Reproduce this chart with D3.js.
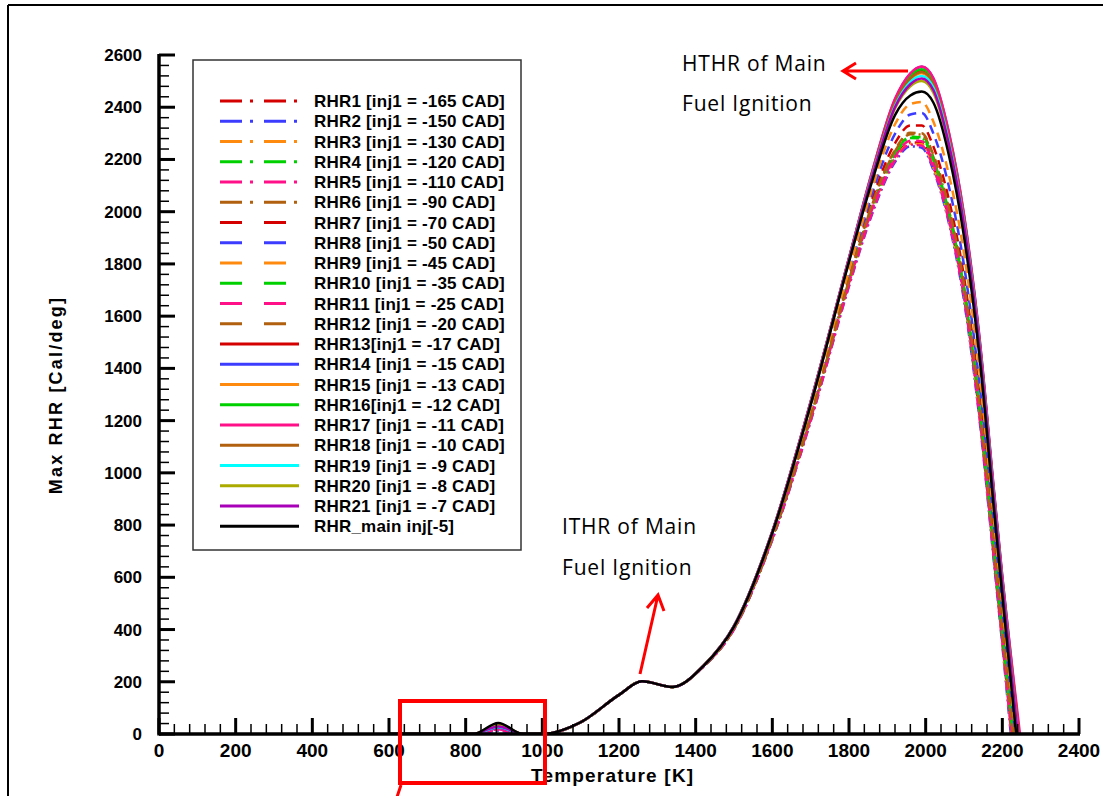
<!DOCTYPE html>
<html>
<head>
<meta charset="utf-8">
<script src="https://cdn.jsdelivr.net/npm/d3@7"></script>
<style>
  body { margin: 0; background: #fff; }
  svg { display: block; }
  .tick-y { font: bold 17px "Liberation Sans", Arial, sans-serif; }
  .tick-x { font: bold 19px "Liberation Sans", Arial, sans-serif; }
  .leg { font: bold 17px "Liberation Sans", Arial, sans-serif; letter-spacing: 0.2px; }
  .note { font: 21px "Open Sans", "Noto Sans", sans-serif; letter-spacing: 0.8px; }
</style>
</head>
<body>
<svg id="chart" width="1103" height="796"></svg>
<script>
// temperature grid [K] shared by all curves
var temps = [600, 820, 885, 950, 1000, 1100, 1200, 1260, 1340, 1420, 1500, 1600, 1700, 1800, 1860, 1920, 1960, 1990, 2020, 2060, 2100, 2140, 2180, 2200];

var seriesNames = [
  "RHR1 [inj1 = -165 CAD]", "RHR2 [inj1 = -150 CAD]", "RHR3 [inj1 = -130 CAD]",
  "RHR4 [inj1 = -120 CAD]", "RHR5 [inj1 = -110 CAD]", "RHR6 [inj1 = -90 CAD]",
  "RHR7 [inj1 = -70 CAD]", "RHR8 [inj1 = -50 CAD]", "RHR9 [inj1 = -45 CAD]",
  "RHR10 [inj1 = -35 CAD]", "RHR11 [inj1 = -25 CAD]", "RHR12 [inj1 = -20 CAD]",
  "RHR13[inj1 = -17 CAD]", "RHR14 [inj1 = -15 CAD]", "RHR15 [inj1 = -13 CAD]",
  "RHR16[inj1 = -12 CAD]", "RHR17 [inj1 = -11 CAD]", "RHR18 [inj1 = -10 CAD]",
  "RHR19 [inj1 = -9 CAD]", "RHR20 [inj1 = -8 CAD]", "RHR21 [inj1 = -7 CAD]",
  "RHR_main inj[-5]"
];

var seriesColors = [
  "#d40000", "#3c3cff", "#ff8a10", "#00d000", "#ff1088", "#b0600f",
  "#d40000", "#3c3cff", "#ff8a10", "#00d000", "#ff1088", "#b0600f",
  "#d40000", "#3c3cff", "#ff8a10", "#00d000", "#ff1088", "#b0600f",
  "#00ffff", "#aaaa00", "#a800b8", "#000000"
];

var seriesStyle = [
  "dashdot", "dashdot", "dashdot", "dashdot", "dashdot", "dashdot",
  "dash", "dash", "dash", "dash", "dash", "dash",
  "solid", "solid", "solid", "solid", "solid", "solid",
  "solid", "solid", "solid", "solid"
];

// max RHR [Cal/deg] on the temps grid, one row per series
var rhrValues = [
  [0, 0, 18, 0, 0, 45, 150, 202, 180, 258, 403, 748, 1205, 1725, 2005, 2205, 2265, 2262, 2175, 1975, 1680, 1230, 650, 360],
  [0, 0, 12, 0, 0, 45, 150, 202, 180, 258, 401, 744, 1198, 1715, 1990, 2190, 2250, 2245, 2160, 1960, 1660, 1210, 630, 340],
  [0, 0, 22, 0, 0, 45, 150, 202, 180, 258, 403, 748, 1204, 1722, 2000, 2200, 2260, 2258, 2170, 1970, 1675, 1225, 645, 355],
  [0, 0, 25, 0, 0, 45, 150, 202, 180, 259, 404, 750, 1210, 1732, 2015, 2218, 2282, 2280, 2195, 1995, 1700, 1250, 665, 375],
  [0, 0, 15, 0, 0, 45, 150, 202, 180, 258, 402, 746, 1200, 1718, 1995, 2197, 2257, 2253, 2168, 1968, 1672, 1220, 640, 350],
  [0, 0, 30, 0, 0, 45, 150, 202, 180, 259, 405, 752, 1215, 1738, 2025, 2232, 2297, 2295, 2210, 2010, 1715, 1265, 680, 390],
  [0, 0, 28, 0, 0, 45, 150, 202, 180, 259, 406, 755, 1222, 1748, 2045, 2262, 2330, 2330, 2250, 2050, 1750, 1300, 710, 420],
  [0, 0, 20, 0, 0, 45, 150, 202, 180, 260, 407, 758, 1230, 1760, 2068, 2298, 2372, 2378, 2300, 2100, 1795, 1345, 750, 455],
  [0, 0, 24, 0, 0, 45, 150, 202, 180, 260, 408, 762, 1238, 1772, 2088, 2335, 2412, 2420, 2345, 2145, 1840, 1390, 790, 490],
  [0, 0, 26, 0, 0, 45, 150, 202, 180, 259, 404, 750, 1212, 1735, 2018, 2222, 2287, 2285, 2200, 2000, 1705, 1255, 670, 380],
  [0, 0, 18, 0, 0, 45, 150, 202, 180, 258, 403, 748, 1206, 1727, 2008, 2210, 2272, 2270, 2185, 1985, 1690, 1240, 655, 365],
  [0, 0, 34, 0, 0, 45, 150, 202, 180, 259, 405, 752, 1216, 1740, 2028, 2237, 2302, 2300, 2218, 2018, 1722, 1272, 688, 395],
  [0, 0, 30, 0, 0, 45, 150, 202, 180, 261, 413, 775, 1270, 1820, 2145, 2420, 2515, 2540, 2495, 2290, 1975, 1510, 890, 590],
  [0, 0, 25, 0, 0, 45, 150, 202, 180, 261, 414, 776, 1272, 1822, 2150, 2430, 2528, 2555, 2510, 2305, 1985, 1520, 900, 600],
  [0, 0, 32, 0, 0, 45, 150, 202, 180, 261, 413, 774, 1268, 1818, 2140, 2412, 2507, 2530, 2485, 2280, 1965, 1500, 880, 580],
  [0, 0, 28, 0, 0, 45, 150, 202, 180, 261, 413, 775, 1270, 1820, 2146, 2424, 2520, 2545, 2500, 2295, 1978, 1512, 892, 592],
  [0, 0, 36, 0, 0, 45, 150, 202, 180, 261, 414, 777, 1274, 1824, 2152, 2432, 2530, 2556, 2512, 2308, 1990, 1525, 905, 605],
  [0, 0, 38, 0, 0, 45, 150, 202, 180, 261, 413, 774, 1268, 1818, 2142, 2416, 2510, 2535, 2490, 2285, 1970, 1505, 885, 585],
  [0, 0, 27, 0, 0, 45, 150, 202, 180, 260, 412, 772, 1265, 1815, 2135, 2405, 2497, 2520, 2476, 2272, 1958, 1495, 875, 575],
  [0, 0, 33, 0, 0, 45, 150, 202, 180, 260, 412, 771, 1262, 1812, 2128, 2395, 2480, 2500, 2456, 2255, 1942, 1480, 862, 565],
  [0, 0, 29, 0, 0, 45, 150, 202, 180, 260, 412, 772, 1264, 1814, 2132, 2400, 2488, 2510, 2466, 2262, 1950, 1488, 868, 570],
  [0, 0, 42, 0, 0, 45, 150, 202, 180, 260, 411, 770, 1260, 1808, 2115, 2370, 2445, 2460, 2418, 2220, 1905, 1450, 830, 530]
];

// temperature where each curve drops back to zero
var zeroAt = [2224, 2222, 2223, 2226, 2224, 2228, 2230, 2232, 2234, 2227, 2225, 2228,
              2242, 2244, 2241, 2243, 2246, 2242, 2240, 2239, 2240, 2236];

var xTicks = [0, 200, 400, 600, 800, 1000, 1200, 1400, 1600, 1800, 2000, 2200, 2400];
var yTicks = [0, 200, 400, 600, 800, 1000, 1200, 1400, 1600, 1800, 2000, 2200, 2400, 2600];

var svg = d3.select("#chart");

var x = d3.scaleLinear().domain([0, 2400]).range([159, 1079]);
var y = d3.scaleLinear().domain([0, 2600]).range([734, 55]);

// outer frame (top + left only)
svg.append("line").attr("x1", 8).attr("x2", 1103).attr("y1", 5).attr("y2", 5)
  .attr("stroke", "#000").attr("stroke-width", 2);
svg.append("line").attr("x1", 8).attr("x2", 8).attr("y1", 5).attr("y2", 796)
  .attr("stroke", "#000").attr("stroke-width", 2);

svg.append("clipPath").attr("id", "plotclip")
  .append("rect").attr("x", 159).attr("y", 40).attr("width", 940).attr("height", 694);

var dashPlot = { dashdot: "9,4,2,4", dash: "9,6", solid: null };
var dashLegend = { dashdot: "22,8,3,11", dash: "22,22", solid: null };

var line = d3.line()
  .x(function(d) { return x(d[0]); })
  .y(function(d) { return y(d[1]); })
  .curve(d3.curveMonotoneX);

var curves = svg.append("g").attr("clip-path", "url(#plotclip)");
rhrValues.forEach(function(vals, i) {
  var pts = temps.map(function(t, j) { return [t, vals[j]]; });
  pts.push([zeroAt[i], 0]);
  curves.append("path")
    .attr("d", line(pts))
    .attr("fill", "none")
    .attr("stroke", seriesColors[i])
    .attr("stroke-width", 2.5)
    .attr("stroke-dasharray", dashPlot[seriesStyle[i]]);
});

// axes: inward ticks, 4 minor between majors
var axes = svg.append("g");
var minorX = d3.range(0, 2401, 40).filter(function(v) { return v % 200 != 0; });
var minorY = d3.range(0, 2601, 40).filter(function(v) { return v % 200 != 0; });

axes.selectAll(".mx").data(minorX).enter().append("line")
  .attr("x1", function(d) { return x(d); }).attr("x2", function(d) { return x(d); })
  .attr("y1", 734).attr("y2", 724).attr("stroke", "#000").attr("stroke-width", 1.5);
axes.selectAll(".Mx").data(xTicks).enter().append("line")
  .attr("x1", function(d) { return x(d); }).attr("x2", function(d) { return x(d); })
  .attr("y1", 734).attr("y2", 718).attr("stroke", "#000").attr("stroke-width", 3);
axes.selectAll(".my").data(minorY).enter().append("line")
  .attr("y1", function(d) { return y(d); }).attr("y2", function(d) { return y(d); })
  .attr("x1", 159).attr("x2", 169).attr("stroke", "#000").attr("stroke-width", 1.5);
axes.selectAll(".My").data(yTicks).enter().append("line")
  .attr("y1", function(d) { return y(d); }).attr("y2", function(d) { return y(d); })
  .attr("x1", 159).attr("x2", 175).attr("stroke", "#000").attr("stroke-width", 3);

axes.append("line").attr("x1", 159).attr("x2", 1080).attr("y1", 734).attr("y2", 734)
  .attr("stroke", "#000").attr("stroke-width", 3.5);
axes.append("line").attr("x1", 159).attr("x2", 159).attr("y1", 54).attr("y2", 735.5)
  .attr("stroke", "#000").attr("stroke-width", 3.5);

axes.selectAll(".lx").data(xTicks).enter().append("text")
  .attr("class", "tick-x")
  .attr("x", function(d) { return x(d); })
  .attr("y", 757)
  .attr("text-anchor", "middle")
  .text(function(d) { return d; });
axes.selectAll(".ly").data(yTicks).enter().append("text")
  .attr("class", "tick-y")
  .attr("x", 142)
  .attr("y", function(d) { return y(d) + 6; })
  .attr("text-anchor", "end")
  .text(function(d) { return d; });

svg.append("text")
  .attr("x", 531).attr("y", 782)
  .style("font", "bold 19px 'Liberation Sans', Arial, sans-serif")
  .style("letter-spacing", "1.2px")
  .text("Temperature [K]");
svg.append("text")
  .attr("transform", "translate(62,395) rotate(-90)")
  .attr("text-anchor", "middle")
  .style("font", "bold 18px 'Liberation Sans', Arial, sans-serif")
  .style("letter-spacing", "2.2px")
  .text("Max RHR [Cal/deg]");

// legend
var legend = svg.append("g");
legend.append("rect")
  .attr("x", 193).attr("y", 60).attr("width", 328).attr("height", 490)
  .attr("fill", "#fff").attr("stroke", "#333").attr("stroke-width", 1.5);

var items = legend.selectAll(".item").data(seriesNames).enter().append("g")
  .attr("transform", function(d, i) { return "translate(0," + (101 + i * 20.25) + ")"; });
items.append("line")
  .attr("x1", 220).attr("x2", 299).attr("y1", 0).attr("y2", 0)
  .attr("stroke", function(d, i) { return seriesColors[i]; })
  .attr("stroke-width", 3)
  .attr("stroke-dasharray", function(d, i) { return dashLegend[seriesStyle[i]]; });
items.append("text")
  .attr("class", "leg")
  .attr("x", 314).attr("y", 6)
  .text(function(d) { return d; });

// annotations
var red = "#ff0000";
var notes = svg.append("g");
notes.append("text").attr("class", "note").attr("x", 682).attr("y", 71).text("HTHR of Main");
notes.append("text").attr("class", "note").attr("x", 682).attr("y", 111).text("Fuel Ignition");
notes.append("text").attr("class", "note").attr("x", 562).attr("y", 534).text("ITHR of Main");
notes.append("text").attr("class", "note").attr("x", 562).attr("y", 575).text("Fuel Ignition");

notes.append("path").attr("d", "M908,71 L843,71 M856,63 L843,71 L856,79")
  .attr("fill", "none").attr("stroke", red).attr("stroke-width", 3);
notes.append("path").attr("d", "M640,674 L658,595 M647,608 L658,595 L664,611")
  .attr("fill", "none").attr("stroke", red).attr("stroke-width", 3);

notes.append("rect").attr("x", 400).attr("y", 701).attr("width", 145).attr("height", 82)
  .attr("fill", "none").attr("stroke", red).attr("stroke-width", 4);
notes.append("line").attr("x1", 401).attr("y1", 785).attr("x2", 396).attr("y2", 800)
  .attr("stroke", red).attr("stroke-width", 3);
</script>
</body>
</html>
